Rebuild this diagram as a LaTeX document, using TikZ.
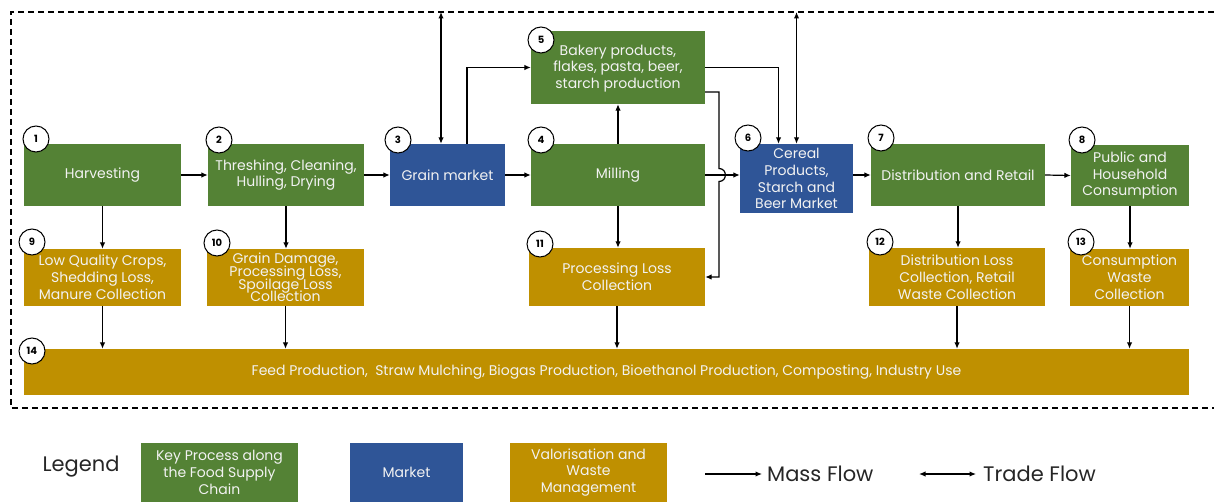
\documentclass[tikz,border=0pt]{standalone}
\usepackage{fontspec}
\setmainfont{Poppins}
\usetikzlibrary{arrows.meta}
\definecolor{pgreen}{HTML}{548235}
\definecolor{pblue}{HTML}{2F5597}
\definecolor{pgold}{HTML}{BF9000}
\definecolor{ptext}{HTML}{F2F2F2}
\definecolor{legtext}{HTML}{262626}
\newcommand\mytightlines{\lineskiplimit=-100pt\relax\lineskip=0pt\relax}
\tikzset{
  box/.style={draw=none, text=ptext, align=center, inner sep=1pt, font=\fontsize{14}{16.8}\selectfont},
  proc/.style={box, fill=pgreen},
  mkt/.style={box, fill=pblue},
  valo/.style={box, fill=pgold},
  num/.style={circle, draw=black, fill=white, line width=1pt, minimum size=26pt, inner sep=0pt, font=\fontsize{10}{10}\selectfont\bfseries},
  flow/.style={line width=1.2pt, -{Latex[length=6.5pt,width=5.5pt]}},
  trade/.style={line width=1.2pt, {Latex[length=6.5pt,width=5.5pt]}-{Latex[length=6.5pt,width=5.5pt]}},
  frame/.style={line width=1.2pt, dash pattern=on 6pt off 4pt},
  legendlabel/.style={text=legtext, font=\fontsize{21}{23}\selectfont, inner sep=0pt},
}
\begin{document}
\begin{tikzpicture}[x=1pt,y=-1pt]
\useasboundingbox (0,0) rectangle (1214,502);
% frame
\coordinate (fTR) at (1214,12);
\coordinate (fTL) at (11,12);
\coordinate (fBL) at (11,408);
\coordinate (fBR) at (1214,408);
\draw[frame] (fTR) -- (fTL) -- (fBL) -- (fBR);

% main row
\node[proc, minimum width=157, minimum height=62] (harv) at (102.5,175) {Harvesting};
\node[proc, minimum width=156, minimum height=62] (thr) at (286,175) {Threshing, Cleaning,\\Hulling, Drying};
\node[mkt, minimum width=115, minimum height=62] (grain) at (447.5,175) {Grain market};
\node[proc, minimum width=174, minimum height=62] (mill) at (618,175) {Milling};
\node[proc, minimum width=174, minimum height=73] (bak) at (618,67.5) {};
\node[box, anchor=center] (baktxt) at (618,68.5) {Bakery products,\\flakes, pasta, beer,\\starch production};
\node[mkt, minimum width=113, minimum height=69] (cer) at (796.5,178.5) {Cereal\\Products,\\Starch and\\Beer Market};
\node[proc, minimum width=174, minimum height=62] (dist) at (958,175) {Distribution and Retail};
\node[proc, minimum width=118, minimum height=61] (pub) at (1130,175.5) {Public and\\Household\\Consumption};

% loss row
\node[valo, minimum width=157, minimum height=57] (n9) at (102.5,277.5) {Low Quality Crops,\\Shedding Loss,\\Manure Collection};
\node[valo, minimum width=157, minimum height=57, font={\fontsize{14}{12.7}\selectfont\mytightlines}] (n10) at (285.5,277.5) {Grain Damage,\\Processing Loss,\\Spoilage Loss\\Collection};
\node[valo, minimum width=176, minimum height=58] (n11) at (617,277) {Processing Loss\\Collection};
\node[valo, minimum width=176, minimum height=58] (n12) at (957,277) {Distribution Loss\\Collection, Retail\\Waste Collection};
\node[valo, minimum width=119, minimum height=57] (n13) at (1129.5,277.5) {Consumption\\Waste\\Collection};
\node[valo, minimum width=1165, minimum height=46] (n14) at (606.5,372) {Feed Production,\ \ Straw Mulching, Biogas Production, Bioethanol Production, Composting, Industry Use};

% numbers
\node[num] (c1) at (36,139) {1};
\node[num] (c2) at (219,140) {2};
\node[num] (c3) at (398,140) {3};
\node[num] (c4) at (541,140) {4};
\node[num] (c5) at (541,40) {5};
\node[num] (c6) at (748,138) {6};
\node[num] (c7) at (881,138) {7};
\node[num] (c8) at (1082,140) {8};
\node[num] (c9) at (32,242) {9};
\node[num] (c10) at (217,243) {10};
\node[num] (c11) at (540,244) {11};
\node[num] (c12) at (880,242) {12};
\node[num] (c13) at (1081,242) {13};
\node[num] (c14) at (32,351) {14};

% horizontal flows
\draw[flow] (harv.east) -- (thr.west);
\draw[flow] (thr.east) -- (grain.west);
\draw[flow] (grain.east) -- (mill.west);
\draw[flow] (mill.east) -- (mill.east -| cer.west);
\draw[flow] (dist.west -| cer.east) -- (dist.west);
\draw[flow] (dist.east) -- (pub.west);

% trade flows
\draw[trade] ([xshift=-6.5pt]grain.north) -- ([xshift=-6.5pt]grain.north |- fTL);
\draw[trade] (cer.north) -- (cer.north |- fTL);

% bakery connections
\draw[flow] ([xshift=19.5pt]grain.north) |- (bak.west);
\draw[flow] (mill.north) -- (bak.south);
\draw[flow] (bak.east) -| ([xshift=-18pt]cer.north);
\coordinate (hopA) at (719,168.5);
\coordinate (hopB) at (719,181.5);
\draw[flow] ([yshift=-24.5pt]bak.east) -| (hopA) .. controls (727.5,168.5) and (727.5,181.5) .. (hopB) |- (n11.east);

% down flows
\draw[flow] (harv.south) -- (n9.north);
\draw[flow] (thr.south) -- (thr.south |- n10.north);
\draw[flow] (mill.south) -- (mill.south |- n11.north);
\draw[flow] (dist.south) -- (dist.south |- n12.north);
\draw[flow] (pub.south) -- (pub.south |- n13.north);
\draw[flow] (n9.south) -- (n9.south |- n14.north);
\draw[flow] (n10.south) -- (n10.south |- n14.north);
\draw[flow] (n11.south) -- (n11.south |- n14.north);
\draw[flow] (n12.south) -- (n12.south |- n14.north);
\draw[flow] (n13.south) -- (n13.south |- n14.north);

% legend
\node[legendlabel] (leg) at (81,467) {Legend};
\node[proc, minimum width=157, minimum height=59] (lg) at (219.5,472.5) {Key Process along\\the Food Supply\\Chain};
\node[mkt, minimum width=113, minimum height=59] (lb) at (406.5,472.5) {Market};
\node[valo, minimum width=157, minimum height=59] (lo) at (588.5,472.5) {Valorisation and\\Waste\\Management};
\coordinate (mA) at (705,474);
\coordinate (mB) at (762,474);
\draw[flow] (mA) -- (mB);
\node[legendlabel, anchor=west] (mtxt) at (767,474) {Mass Flow};
\coordinate (tA) at (919,474);
\coordinate (tB) at (976,474);
\draw[trade] (tA) -- (tB);
\node[legendlabel, anchor=west] (ttxt) at (983,474) {Trade Flow};
\end{tikzpicture}
\end{document}
